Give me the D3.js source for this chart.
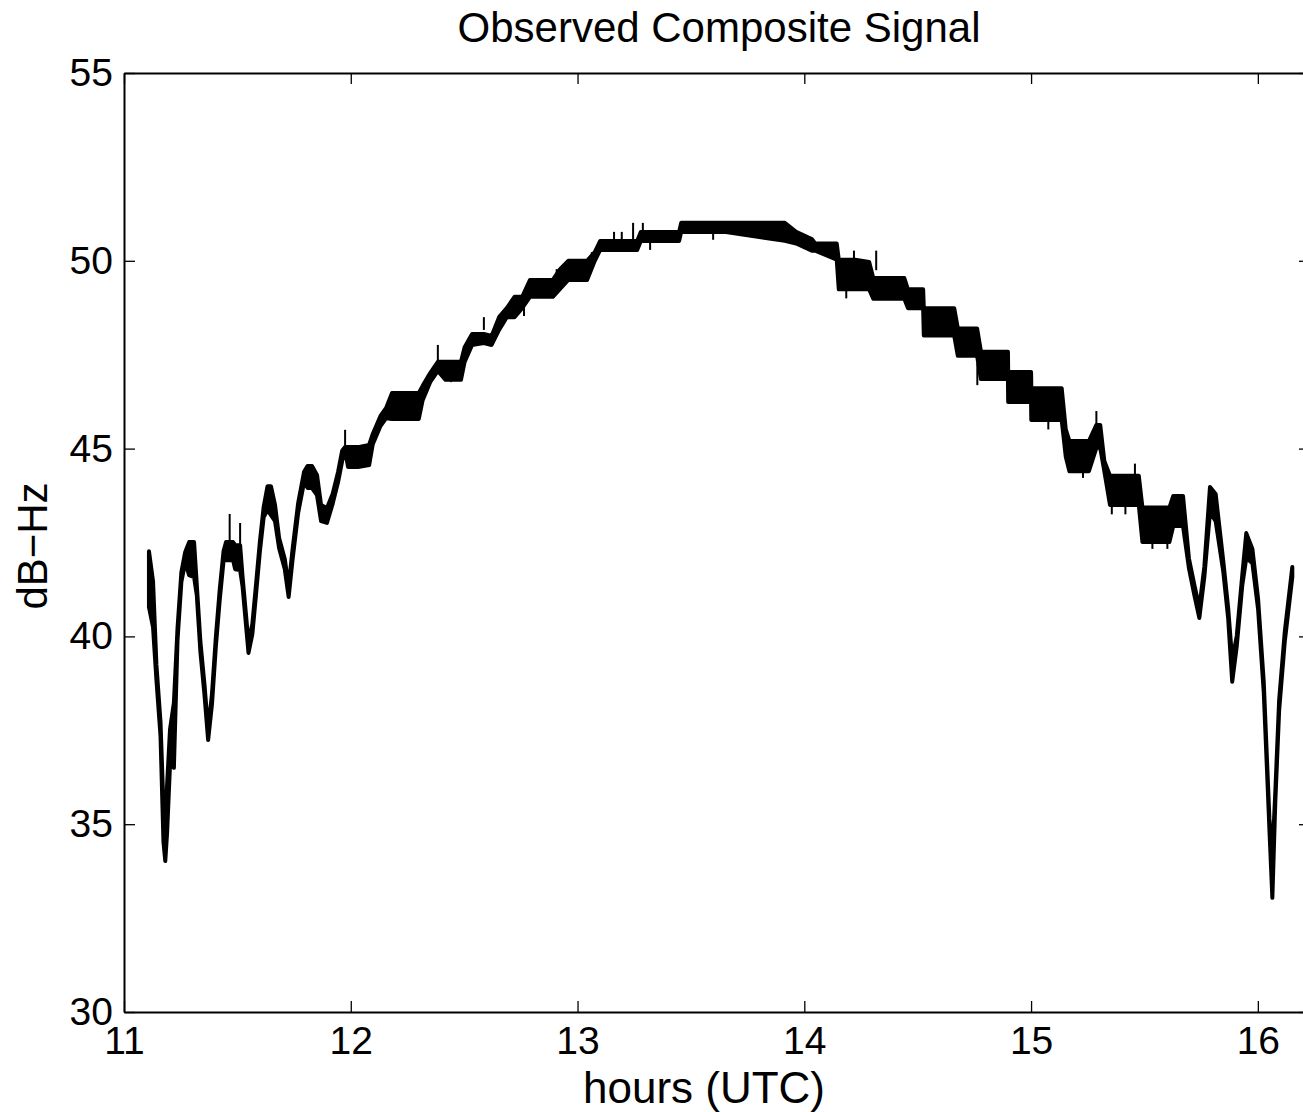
<!DOCTYPE html>
<html>
<head>
<meta charset="utf-8">
<script src="https://cdn.jsdelivr.net/npm/d3@7"></script>
<style>
body { margin: 0; background: #fff; }
text { font-family: "Liberation Sans", Arial, Helvetica, sans-serif; fill: #000; }
</style>
</head>
<body>
<div id="chart"></div>
<script>
// signal: time (hours UTC) with upper / lower edge of the noisy trace (dB-Hz)
var hours = [
  11.110, 11.128, 11.143, 11.161, 11.174, 11.182, 11.190, 11.203, 11.220, 11.236,
  11.253, 11.270, 11.287, 11.309, 11.321, 11.337, 11.355, 11.371, 11.388, 11.405,
  11.422, 11.439, 11.450, 11.466, 11.481, 11.490, 11.512, 11.523, 11.540, 11.549,
  11.566, 11.582, 11.599, 11.616, 11.633, 11.648, 11.666, 11.684, 11.709, 11.726,
  11.743, 11.768, 11.794, 11.810, 11.829, 11.851, 11.869, 11.895, 11.920, 11.944,
  11.962, 11.975, 11.988, 12.032, 12.081, 12.097, 12.131, 12.156, 12.182, 12.240,
  12.300, 12.317, 12.350, 12.384, 12.418, 12.486, 12.502, 12.535, 12.587, 12.621,
  12.654, 12.688, 12.722, 12.756, 12.790, 12.891, 12.923, 12.959, 13.042, 13.076,
  13.100, 13.263, 13.279, 13.448, 13.457, 13.647, 13.914, 13.964, 14.033, 14.048,
  14.143, 14.152, 14.224, 14.286, 14.304, 14.441, 14.457, 14.524, 14.527, 14.661,
  14.677, 14.762, 14.779, 14.898, 14.899, 15.000, 15.001, 15.135, 15.153, 15.169,
  15.255, 15.288, 15.305, 15.323, 15.348, 15.475, 15.491, 15.610, 15.627, 15.670,
  15.696, 15.720, 15.742, 15.764, 15.789, 15.814, 15.848, 15.869, 15.887, 15.907,
  15.931, 15.949, 15.976, 16.001, 16.026, 16.042, 16.051, 16.064, 16.077, 16.094,
  16.119, 16.152
];
var hiDb = [
  42.27, 41.47, 39.24, 37.72, 35.46, 34.60, 36.04, 37.53, 38.23, 40.22,
  41.71, 42.25, 42.51, 42.51, 41.37, 39.85, 38.71, 37.51, 38.47, 39.98,
  41.24, 42.27, 42.51, 42.51, 42.51, 42.43, 42.43, 41.58, 40.44, 39.82,
  40.33, 41.37, 42.51, 43.45, 44.00, 44.00, 43.50, 42.62, 42.06, 41.32,
  42.30, 43.55, 44.38, 44.54, 44.54, 44.30, 43.50, 43.42, 43.79, 44.38,
  44.94, 45.04, 45.04, 45.04, 45.10, 45.39, 45.87, 46.08, 46.48, 46.48,
  46.48, 46.67, 47.01, 47.31, 47.31, 47.31, 47.70, 48.05, 48.05, 48.00,
  48.50, 48.74, 49.04, 49.04, 49.49, 49.49, 49.78, 50.00, 50.00, 50.23,
  50.53, 50.53, 50.77, 50.77, 51.01, 51.01, 51.01, 50.77, 50.58, 50.46,
  50.46, 50.03, 50.03, 49.97, 49.54, 49.54, 49.24, 49.24, 48.74, 48.74,
  48.20, 48.20, 47.58, 47.58, 47.04, 47.04, 46.61, 46.61, 45.51, 45.20,
  45.20, 45.63, 45.63, 44.67, 44.28, 44.28, 43.43, 43.43, 43.74, 43.74,
  42.08, 41.37, 40.76, 41.85, 43.98, 43.79, 41.98, 40.76, 39.37, 40.01,
  41.61, 42.75, 42.33, 41.00, 38.79, 36.47, 35.14, 34.15, 35.86, 38.31,
  40.14, 41.85
];
var loDb = [
  40.78, 40.25, 38.84, 37.35, 34.53, 34.02, 34.77, 36.60, 36.50, 39.90,
  41.45, 41.98, 41.63, 41.58, 41.10, 39.58, 38.44, 37.24, 38.20, 39.72,
  40.97, 42.01, 42.03, 42.03, 42.03, 41.79, 41.77, 41.32, 40.17, 39.56,
  40.06, 41.10, 42.25, 43.18, 43.37, 43.23, 43.07, 42.35, 41.79, 41.05,
  42.03, 43.29, 44.11, 43.95, 43.95, 43.76, 43.07, 43.02, 43.53, 44.11,
  44.67, 44.96, 44.51, 44.51, 44.56, 45.12, 45.60, 45.81, 45.79, 45.79,
  45.79, 46.29, 46.77, 47.07, 46.83, 46.83, 47.31, 47.76, 47.81, 47.76,
  48.16, 48.50, 48.50, 48.74, 49.04, 49.04, 49.25, 49.49, 49.49, 50.00,
  50.29, 50.29, 50.53, 50.53, 50.77, 50.77, 50.53, 50.46, 50.27, 50.27,
  50.03, 49.24, 49.24, 49.24, 48.99, 48.99, 48.74, 48.74, 48.01, 48.01,
  47.47, 47.47, 46.85, 46.85, 46.24, 46.24, 45.76, 45.76, 44.78, 44.40,
  44.40, 45.02, 45.02, 44.40, 43.50, 43.50, 42.51, 42.51, 42.94, 42.94,
  41.82, 41.10, 40.49, 41.58, 43.31, 43.07, 41.71, 40.49, 38.79, 39.74,
  41.34, 42.09, 41.95, 40.73, 38.52, 36.20, 34.87, 33.04, 35.59, 38.04,
  39.88, 41.58
];
// single-sample noise spikes: time, spike tip and where it leaves the trace
var spikeHours = [
  11.466, 11.512, 11.975, 12.004, 12.081, 12.248, 12.292, 12.384, 12.442, 12.587,
  12.764, 12.908, 13.063, 13.161, 13.195, 13.245, 13.288, 13.320, 13.598, 14.185,
  14.219, 14.317, 14.599, 14.644, 14.745, 14.763, 14.820, 15.076, 15.101, 15.229,
  15.288, 15.356, 15.416, 15.458, 15.535, 15.601
];
var spikeTip = [
  43.26, 43.02, 45.50, 44.51, 44.51, 45.79, 45.79, 47.76, 46.77, 48.50,
  48.53, 49.78, 50.23, 50.77, 50.77, 51.01, 51.01, 50.29, 50.56, 49.00,
  50.27, 50.27, 48.01, 48.74, 47.92, 46.69, 46.99, 45.51, 46.61, 44.22,
  46.00, 43.25, 43.25, 44.60, 42.33, 42.33
];
var spikeBase = [
  42.43, 42.30, 44.96, 44.83, 44.83, 46.16, 46.16, 47.23, 47.09, 48.16,
  48.82, 49.36, 49.97, 50.43, 50.43, 50.58, 50.58, 50.56, 50.85, 49.50,
  49.88, 49.75, 48.41, 48.41, 47.55, 47.28, 47.47, 46.03, 46.29, 44.67,
  45.51, 43.63, 43.63, 44.28, 42.75, 42.75
];
var xTicks = [11, 12, 13, 14, 15, 16];
var yTicks = [30, 35, 40, 45, 50, 55];

var width = 1303, height = 1112;
var plotLeft = 124, plotTop = 73, plotRight = 1310, plotBottom = 1012;

var x = d3.scaleLinear().domain([11, 16.23]).range([plotLeft, plotRight]);
var y = d3.scaleLinear().domain([30, 55]).range([plotBottom, plotTop]);

var svg = d3.select("#chart").append("svg")
    .attr("width", width)
    .attr("height", height);

svg.append("clipPath").attr("id", "plot")
  .append("rect")
    .attr("x", plotLeft).attr("y", plotTop)
    .attr("width", plotRight - plotLeft).attr("height", plotBottom - plotTop);

var pts = hours.map(function(t, i) { return { t: t, hi: hiDb[i], lo: loDb[i] }; });

var band = d3.area()
    .x(function(d) { return x(d.t); })
    .y0(function(d) { return y(d.lo); })
    .y1(function(d) { return y(d.hi); });

var trace = svg.append("g").attr("clip-path", "url(#plot)");

trace.append("path")
    .datum(pts)
    .attr("d", band)
    .attr("fill", "#000")
    .attr("stroke", "#000")
    .attr("stroke-width", 4)
    .attr("stroke-linejoin", "round");

trace.selectAll(".spike")
    .data(spikeHours)
    .enter().append("line")
    .attr("class", "spike")
    .attr("x1", function(d) { return x(d); })
    .attr("x2", function(d) { return x(d); })
    .attr("y1", function(d, i) { return y(spikeBase[i]); })
    .attr("y2", function(d, i) { return y(spikeTip[i]); })
    .attr("stroke", "#000")
    .attr("stroke-width", 2);

// axes, ticks pointing inward like matlab
var fmt = d3.format("d");
var g = svg.append("g");
g.append("g")
    .attr("transform", "translate(0," + plotBottom + ")")
    .call(d3.axisBottom(x).tickValues(xTicks).tickFormat(fmt).tickSizeInner(-11).tickSizeOuter(0).tickPadding(14));
g.append("g")
    .attr("transform", "translate(0," + plotTop + ")")
    .call(d3.axisTop(x).tickValues(xTicks).tickSizeInner(-11).tickSizeOuter(0).tickFormat(""));
g.append("g")
    .attr("transform", "translate(" + plotLeft + ",0)")
    .call(d3.axisLeft(y).tickValues(yTicks).tickFormat(fmt).tickSizeInner(-11).tickSizeOuter(0).tickPadding(11));
g.append("g")
    .attr("transform", "translate(" + plotRight + ",0)")
    .call(d3.axisRight(y).tickValues(yTicks).tickSizeInner(-11).tickSizeOuter(0).tickFormat(""));

g.selectAll(".domain").attr("stroke", "#000").attr("stroke-width", 2);
g.selectAll(".tick line").attr("stroke", "#000").attr("stroke-width", 1.3);
g.selectAll(".tick text").attr("font-size", 39).attr("font-family", "Liberation Sans, Arial, sans-serif").attr("fill", "#000");

svg.append("text")
    .attr("x", 719).attr("y", 42)
    .attr("text-anchor", "middle")
    .attr("font-size", 42)
    .text("Observed Composite Signal");

svg.append("text")
    .attr("x", 704).attr("y", 1102.5)
    .attr("text-anchor", "middle")
    .attr("font-size", 44)
    .text("hours (UTC)");

svg.append("text")
    .attr("transform", "translate(47,546) rotate(-90)")
    .attr("text-anchor", "middle")
    .attr("font-size", 42)
    .text("dB−Hz");
</script>
</body>
</html>
